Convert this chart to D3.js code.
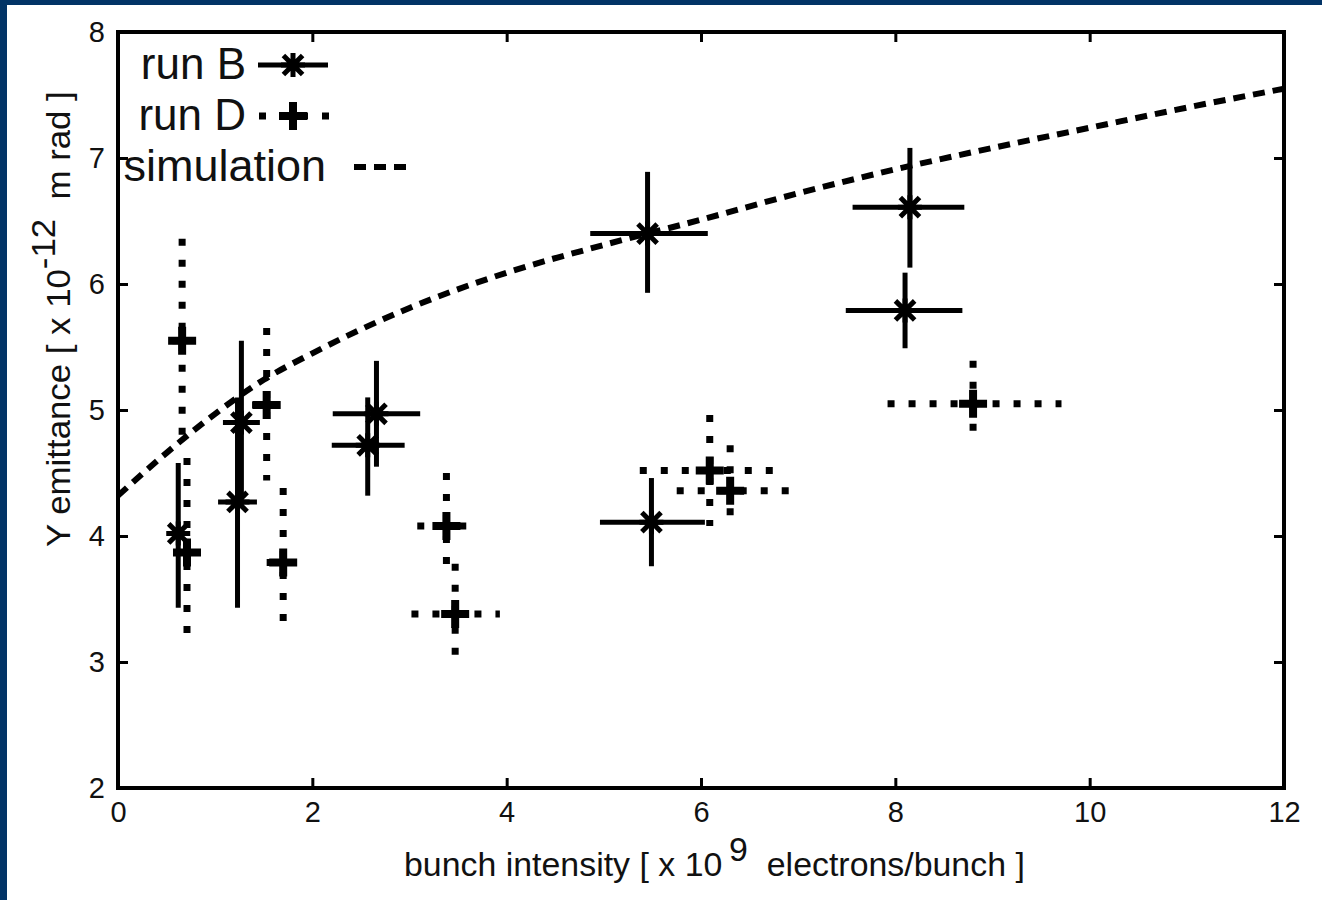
<!DOCTYPE html>
<html>
<head>
<meta charset="utf-8">
<script src="https://cdn.jsdelivr.net/npm/d3@7"></script>
<style>
  body { margin: 0; background: #fff; }
  svg text { font-family: "Liberation Sans", Arial, Helvetica, sans-serif; fill: #111; }
</style>
</head>
<body>
<div id="chart"></div>
<script>
// run B (solid error bars, asterisk points)
var runBx   = [0.62, 1.23, 1.27, 2.57, 2.66, 5.45, 5.49, 8.10, 8.15];
var runBy   = [4.02, 4.27, 4.90, 4.72, 4.97, 6.40, 4.11, 5.79, 6.61];
var runBxlo = [0.52, 1.03, 1.08, 2.20, 2.21, 4.86, 4.96, 7.49, 7.56];
var runBxhi = [0.72, 1.43, 1.46, 2.95, 3.11, 6.07, 6.04, 8.69, 8.71];
var runBylo = [3.43, 3.43, 4.30, 4.32, 4.55, 5.93, 3.76, 5.49, 6.13];
var runByhi = [4.58, 5.10, 5.55, 5.10, 5.39, 6.89, 4.46, 6.09, 7.08];

// run D (dotted error bars, plus points)
var runDx   = [0.66, 0.71, 1.53, 1.70, 3.38, 3.47, 6.09, 6.30, 8.80];
var runDy   = [5.55, 3.87, 5.04, 3.79, 4.08, 3.38, 4.52, 4.36, 5.05];
var runDxlo = [0.56, 0.60, 1.38, 1.53, 3.08, 3.02, 5.37, 5.75, 7.92];
var runDxhi = [0.76, 0.82, 1.70, 1.87, 3.69, 3.93, 6.78, 6.91, 9.71];
var runDylo = [4.75, 3.13, 4.44, 3.22, 3.70, 2.99, 4.08, 4.06, 4.74];
var runDyhi = [6.36, 4.62, 5.65, 4.38, 4.50, 3.78, 4.96, 4.72, 5.39];

// simulation curve
var simX = [0, 0.5, 1, 1.5, 2, 2.5, 3, 4, 5, 6, 7, 8, 9, 10, 11, 12];
var simY = [4.32, 4.66, 4.97, 5.24, 5.45, 5.64, 5.81, 6.09, 6.31, 6.51, 6.72, 6.91, 7.08, 7.24, 7.40, 7.55];

var xTicks = [0, 2, 4, 6, 8, 10, 12];
var yTicks = [2, 3, 4, 5, 6, 7, 8];

var svgWidth = 1322;
var svgHeight = 900;
var margin = { top: 32, right: 38, bottom: 112, left: 118 };
var width = svgWidth - margin.left - margin.right;
var height = svgHeight - margin.top - margin.bottom;

var svg = d3.select("#chart")
  .append("svg")
  .attr("width", svgWidth)
  .attr("height", svgHeight);

svg.append("rect").attr("width", svgWidth).attr("height", svgHeight).attr("fill", "#fff");
// navy slide border (top and left)
svg.append("rect").attr("x", 0).attr("y", 0).attr("width", svgWidth).attr("height", 5).attr("fill", "#023466");
svg.append("rect").attr("x", 0).attr("y", 0).attr("width", 7).attr("height", svgHeight).attr("fill", "#023466");

var chartGroup = svg.append("g")
  .attr("transform", `translate(${margin.left}, ${margin.top})`);

var x = d3.scaleLinear().domain([0, 12]).range([0, width]);
var y = d3.scaleLinear().domain([2, 8]).range([height, 0]);

// axes: ticks pointing inward, mirrored on all four sides
function styleAxis(g) {
  g.select(".domain").remove();
  g.selectAll(".tick line").attr("stroke", "#000").attr("stroke-width", 3);
}

chartGroup.append("g")
  .attr("transform", `translate(0, ${height})`)
  .call(d3.axisBottom(x).tickValues(xTicks).tickSize(-10).tickPadding(13).tickFormat(d3.format("d")))
  .call(styleAxis)
  .selectAll("text").attr("font-size", 29).attr("fill", "#111");

chartGroup.append("g")
  .call(d3.axisTop(x).tickValues(xTicks).tickSize(-10).tickFormat(""))
  .call(styleAxis);

chartGroup.append("g")
  .call(d3.axisLeft(y).tickValues(yTicks).tickSize(-10).tickPadding(13).tickFormat(d3.format("d")))
  .call(styleAxis)
  .selectAll("text").attr("font-size", 29).attr("fill", "#111");

chartGroup.append("g")
  .attr("transform", `translate(${width}, 0)`)
  .call(d3.axisRight(y).tickValues(yTicks).tickSize(-10).tickFormat(""))
  .call(styleAxis);

// frame
chartGroup.append("rect")
  .attr("width", width).attr("height", height)
  .attr("fill", "none").attr("stroke", "#000").attr("stroke-width", 4);

// simulation
var simData = simX.map((v, i) => ({ x: v, y: simY[i] }));
var line = d3.line().x(d => x(d.x)).y(d => y(d.y)).curve(d3.curveMonotoneX);
chartGroup.append("path")
  .datum(simData)
  .attr("d", line)
  .attr("fill", "none")
  .attr("stroke", "#000")
  .attr("stroke-width", 6)
  .attr("stroke-dasharray", "12,8");

function asterisk(g, cx, cy, r) {
  var d = r * 0.8;
  g.append("path")
    .attr("d", `M${cx - r},${cy}H${cx + r}M${cx},${cy - r}V${cy + r}` +
      `M${cx - d},${cy - d}L${cx + d},${cy + d}M${cx - d},${cy + d}L${cx + d},${cy - d}`)
    .attr("stroke", "#000").attr("stroke-width", 5).attr("fill", "none");
}
function plus(g, cx, cy, r) {
  g.append("path")
    .attr("d", `M${cx - r},${cy}H${cx + r}M${cx},${cy - r}V${cy + r}`)
    .attr("stroke", "#000").attr("stroke-width", 8).attr("fill", "none");
}

// run B
var bData = runBx.map((v, i) => ({ x: v, y: runBy[i], xlo: runBxlo[i], xhi: runBxhi[i], ylo: runBylo[i], yhi: runByhi[i] }));
var gB = chartGroup.append("g");
bData.forEach(function(d) {
  gB.append("line").attr("x1", x(d.xlo)).attr("x2", x(d.xhi)).attr("y1", y(d.y)).attr("y2", y(d.y))
    .attr("stroke", "#000").attr("stroke-width", 5);
  gB.append("line").attr("x1", x(d.x)).attr("x2", x(d.x)).attr("y1", y(d.ylo)).attr("y2", y(d.yhi))
    .attr("stroke", "#000").attr("stroke-width", 5);
  asterisk(gB, x(d.x), y(d.y), 12);
});

// run D
var dData = runDx.map((v, i) => ({ x: v, y: runDy[i], xlo: runDxlo[i], xhi: runDxhi[i], ylo: runDylo[i], yhi: runDyhi[i] }));
var gD = chartGroup.append("g");
dData.forEach(function(d) {
  gD.append("line").attr("x1", x(d.xlo)).attr("x2", x(d.xhi)).attr("y1", y(d.y)).attr("y2", y(d.y))
    .attr("stroke", "#000").attr("stroke-width", 7).attr("stroke-dasharray", "7,14");
  gD.append("line").attr("x1", x(d.x)).attr("x2", x(d.x)).attr("y1", y(d.yhi)).attr("y2", y(d.ylo))
    .attr("stroke", "#000").attr("stroke-width", 7).attr("stroke-dasharray", "7,14");
  plus(gD, x(d.x), y(d.y), 14);
});

// legend
var legend = svg.append("g");
legend.append("text").attr("x", 246).attr("y", 79).attr("text-anchor", "end").attr("font-size", 44).text("run B");
legend.append("line").attr("x1", 258).attr("x2", 328).attr("y1", 65).attr("y2", 65).attr("stroke", "#000").attr("stroke-width", 5);
asterisk(legend, 293, 65, 12);

legend.append("text").attr("x", 246).attr("y", 130).attr("text-anchor", "end").attr("font-size", 44).text("run D");
legend.append("line").attr("x1", 259).attr("x2", 331).attr("y1", 116).attr("y2", 116).attr("stroke", "#000").attr("stroke-width", 7).attr("stroke-dasharray", "7,14");
plus(legend, 293, 116, 14);

legend.append("text").attr("x", 326).attr("y", 181).attr("text-anchor", "end").attr("font-size", 45).text("simulation");
legend.append("line").attr("x1", 354).attr("x2", 414).attr("y1", 167).attr("y2", 167).attr("stroke", "#000").attr("stroke-width", 6).attr("stroke-dasharray", "12,8");

// x axis title
var xTitle = svg.append("text")
  .attr("x", 0).attr("y", 0)
  .attr("font-size", 34);
xTitle.append("tspan").text("bunch intensity [ x 10\u2009");
xTitle.append("tspan").attr("dy", -15).text("9");
xTitle.append("tspan").attr("dy", 15).text("\u00a0\u00a0electrons/bunch ]");
var xw = xTitle.node().getBBox().width;
xTitle.attr("transform", `translate(404, 876) scale(${621 / xw}, 1)`);

// y axis title
var yTitle = svg.append("text")
  .attr("x", 0).attr("y", 0)
  .attr("font-size", 34);
yTitle.append("tspan").text("Y emittance [ x 10");
yTitle.append("tspan").attr("dy", -15).text("-12");
yTitle.append("tspan").attr("dy", 15).text("\u00a0\u00a0m rad ]");
var yw = yTitle.node().getBBox().width;
yTitle.attr("transform", `translate(70, 547) rotate(-90) scale(${456 / yw}, 1)`);
</script>
</body>
</html>
